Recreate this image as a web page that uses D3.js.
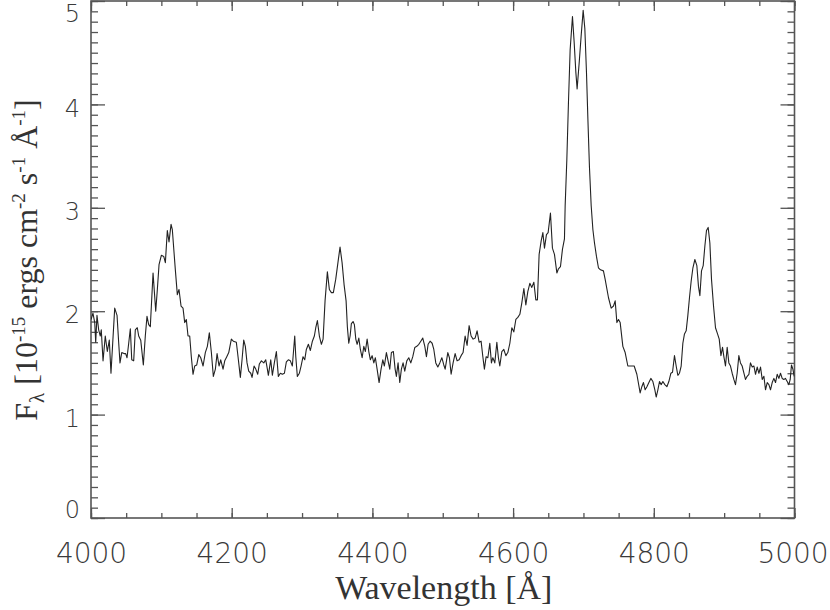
<!DOCTYPE html>
<html>
<head>
<meta charset="utf-8">
<script src="https://cdn.jsdelivr.net/npm/d3@7"></script>
<style>
  html, body { margin: 0; padding: 0; background: #fff; }
  svg { display: block; }
</style>
</head>
<body>
<script>
// ---- data ----
const wavelength = [
4000.0,4002.8,4005.3,4006.7,4008.5,4010.9,4013.2,4014.6,4017.1,4020.3,4023.2,4026.0,4028.4,4033.7,4037.0,4039.4,4041.2,4043.7,4046.9,4049.3,
4051.2,4053.6,4055.9,4057.9,4060.7,4063.0,4065.8,4067.8,4070.7,4074.4,4077.2,4079.6,4082.0,4084.3,4088.2,4092.0,4094.3,4096.7,4100.0,4103.4,
4105.7,4108.5,4110.9,4113.8,4115.6,4118.0,4119.9,4122.7,4125.1,4128.0,4130.8,4133.2,4135.5,4137.9,4140.3,4142.6,4145.0,4147.4,4150.3,4153.2,
4156.0,4159.3,4162.5,4165.4,4168.2,4171.1,4173.9,4176.8,4179.2,4182.0,4184.4,4187.7,4190.1,4193.0,4195.8,4199.5,4202.3,4206.6,4209.0,4212.3,
4214.7,4217.1,4219.4,4221.8,4224.2,4227.1,4228.9,4231.8,4234.2,4237.0,4239.3,4242.2,4245.6,4248.4,4250.7,
4252.1,4255.5,4257.8,4260.6,4263.5,4266.3,4269.2,4272.0,4274.9,4277.7,4280.5,4283.4,4286.2,4289.6,4291.1,4293.3,4296.2,4298.6,4301.4,4303.8,
4306.1,4309.0,4311.8,4314.7,4317.5,4319.5,4321.8,4324.6,4327.5,4329.9,4332.7,4336.0,4338.8,4341.7,4344.5,4347.9,4351.2,4354.0,4356.9,4359.7,
4362.6,4364.4,4366.4,4368.3,4370.1,4372.5,4374.4,4376.4,4378.3,4380.7,4382.9,4385.4,4387.8,4390.0,4392.5,4394.9,4397.1,4399.6,4402.0,4404.2,
4406.7,4409.5,4412.3,4414.8,4417.0,4419.9,4422.3,4424.7,4427.0,4429.8,4432.3,4434.1,4436.5,4438.9,4441.2,4443.6,4446.0,4448.9,4451.7,4454.6,
4457.4,4460.3,4463.1,4466.0,4468.8,4471.6,4474.5,4476.8,4479.2,4482.0,4484.9,4487.3,4490.1,4493.0,4495.8,4498.7,4501.5,
4503.4,4507.2,4509.5,4511.9,4514.7,4517.6,4520.4,4523.3,4526.1,4528.9,4531.8,4534.6,4537.5,4540.3,4543.2,4546.0,4548.8,4551.7,4554.5,4557.0,
4559.2,4561.7,4564.1,4566.9,4569.2,4571.2,4574.0,4576.9,4579.1,4581.1,4584.0,4586.8,4589.7,4592.5,4595.4,4598.2,4601.0,4603.9,4606.7,4609.6,
4612.4,4615.3,4618.1,4620.9,4623.8,4626.6,4629.5,4632.3,4634.6,4637.0,4639.9,4642.3,4644.6,4647.4,4649.8,4653.1,4655.9,4658.8,4662.2,4664.5,
4667.3,4670.2,4673.0,
4674.0,4676.4,4678.7,4681.1,4684.4,4686.8,4689.2,4691.0,4693.9,4696.7,4699.6,4702.0,4704.3,4706.3,4708.5,4711.0,4713.4,4715.7,4718.5,4721.3,
4724.2,4728.4,4730.8,4735.6,4739.4,4742.7,4745.1,4747.5,4749.8,4752.2,4756.0,4759.3,4763.1,4767.8,4772.1,4775.9,
4780.6,4783.0,4785.3,4787.7,4790.2,4793.0,4795.8,4798.7,4801.5,4803.4,4805.8,4808.1,4810.5,4812.9,4815.7,4818.6,4821.4,4824.3,4826.6,4829.4,
4831.8,4834.2,4836.5,4838.9,4841.3,4843.6,4846.0,4848.4,4850.7,4853.1,4855.6,4858.4,4861.2,4863.5,4865.5,4867.8,4870.2,4872.6,4874.9,4877.3,
4879.7,4882.0,4884.9,4887.7,4890.6,4893.0,4895.4,4897.7,4899.6,4901.9,4904.3,4906.7,4909.0,4911.4,4913.8,4916.1,4918.5,4920.9,4923.2,4925.6,
4928.1,4930.3,4932.7,4935.2,4937.4,4939.9,4942.3,4944.6,4947.0,4949.4,4951.7,4954.1,4956.5,4958.8,4961.2,4963.6,4965.9,4968.3,4970.7,4973.0,
4975.4,4977.8,4980.1,4982.5,4984.9,4987.2,4989.6,4992.0,4993.9,4995.7,4997.7,4999.6
];
const flux = [
1.92,1.98,1.89,1.70,1.96,1.82,1.76,1.82,1.52,1.76,1.61,1.72,1.40,2.03,1.96,1.69,1.50,1.60,1.59,1.59,
1.55,1.69,1.83,1.53,1.52,1.82,1.84,1.76,1.72,1.48,1.76,1.95,1.87,1.85,2.37,2.00,2.21,2.45,2.54,2.53,
2.47,2.78,2.67,2.84,2.79,2.57,2.40,2.16,2.21,2.05,2.03,1.89,1.92,1.76,1.76,1.56,1.39,1.47,1.48,1.58,
1.55,1.47,1.60,1.66,1.79,1.60,1.37,1.44,1.59,1.47,1.53,1.44,1.52,1.56,1.60,1.73,1.71,1.70,1.56,1.36,
1.53,1.72,1.66,1.50,1.42,1.40,1.36,1.47,1.44,1.39,1.49,1.52,1.50,1.53,1.44,
1.38,1.53,1.38,1.50,1.61,1.37,1.40,1.39,1.40,1.51,1.53,1.52,1.47,1.76,1.56,1.37,1.40,1.47,1.56,1.53,
1.63,1.68,1.62,1.71,1.76,1.84,1.91,1.76,1.68,1.73,2.10,2.38,2.21,2.18,2.18,2.31,2.48,2.62,2.47,2.26,
2.10,1.85,1.69,1.76,1.88,1.90,1.87,1.73,1.68,1.74,1.63,1.55,1.66,1.61,1.73,1.61,1.53,1.57,1.50,1.55,
1.44,1.31,1.44,1.53,1.47,1.60,1.52,1.44,1.60,1.61,1.44,1.37,1.50,1.31,1.44,1.50,1.42,1.52,1.55,1.50,
1.56,1.65,1.66,1.68,1.71,1.74,1.66,1.56,1.68,1.71,1.69,1.63,1.50,1.46,1.50,1.55,1.48,
1.44,1.60,1.55,1.39,1.50,1.59,1.52,1.53,1.57,1.60,1.76,1.67,1.86,1.76,1.73,1.74,1.81,1.70,1.71,1.56,
1.44,1.56,1.55,1.69,1.50,1.55,1.50,1.70,1.55,1.47,1.61,1.63,1.57,1.60,1.69,1.84,1.80,1.92,1.94,1.97,
2.08,2.22,2.06,2.19,2.27,2.23,2.28,2.11,2.11,2.55,2.68,2.76,2.61,2.74,2.76,2.95,2.61,2.55,2.37,2.41,
2.43,2.60,2.70,
3.02,3.47,4.02,4.53,4.85,4.60,4.31,4.15,4.40,4.66,4.91,4.73,4.31,3.86,3.40,3.02,2.79,2.66,2.53,2.42,
2.40,2.39,2.31,2.13,2.03,2.05,2.10,1.89,1.92,1.89,1.66,1.60,1.47,1.47,1.47,1.39,
1.21,1.27,1.31,1.24,1.27,1.31,1.35,1.32,1.24,1.17,1.24,1.32,1.29,1.32,1.29,1.27,1.32,1.40,1.41,1.57,
1.47,1.38,1.40,1.47,1.69,1.78,1.81,1.96,2.13,2.29,2.42,2.50,2.44,2.24,2.15,2.39,2.44,2.63,2.78,2.81,
2.66,2.31,2.05,1.84,1.78,1.73,1.57,1.65,1.56,1.47,1.65,1.50,1.47,1.40,1.34,1.29,1.40,1.57,1.50,1.47,
1.40,1.34,1.37,1.39,1.50,1.46,1.47,1.39,1.46,1.40,1.46,1.34,1.37,1.24,1.31,1.29,1.24,1.31,1.35,1.31,
1.39,1.35,1.40,1.35,1.34,1.35,1.32,1.29,1.34,1.48,1.44,1.37
];
const xDomain = [4000, 5000];
const yDomain = [0, 5];
const xTickLabels = [4000, 4200, 4400, 4600, 4800, 5000];
const yTickLabels = [0, 1, 2, 3, 4, 5];
const xMinorStep = 50;
const yMinorStep = 0.1;
const xTitle = "Wavelength [Å]";

// ---- layout ----
const W = 830, H = 610;
const mLeft = 91, mRight = 794.5, mTop = 1, mBottom = 518;
const axisColor = "#555";
const labelColor = "#3a3a3a";

const svg = d3.select("body").append("svg").attr("width", W).attr("height", H);

const x = d3.scaleLinear().domain(xDomain).range([mLeft, mRight]);
const y = d3.scaleLinear().domain(yDomain).range([mBottom, mTop]);

const xMinor = d3.range(xDomain[0], xDomain[1] + 1e-9, xMinorStep);
const yMinor = d3.range(0, 51).map(i => +(i * yMinorStep).toFixed(2));

function styleAxis(g) {
  g.select(".domain").remove();
  g.selectAll(".tick line").attr("stroke", axisColor).attr("stroke-width", 1.3);
}

// bottom minor + major
svg.append("g").attr("transform", `translate(0,${mBottom})`)
  .call(d3.axisBottom(x).tickValues(xMinor).tickSize(-5).tickSizeOuter(0).tickFormat(""))
  .call(styleAxis);
const gxb = svg.append("g").attr("transform", `translate(0,${mBottom})`)
  .call(d3.axisBottom(x).tickValues(xTickLabels).tickSize(-10).tickSizeOuter(0).tickPadding(25).tickFormat(d3.format("d")))
  .call(styleAxis);
gxb.selectAll("text")
  .attr("font-family", "'DejaVu Sans', sans-serif")
  .attr("font-weight", 200)
  .attr("font-size", 28)
  .attr("fill", labelColor)
  .attr("transform", d => d === xDomain[1] ? "translate(-2,0)" : null);

// top minor + major
svg.append("g").attr("transform", `translate(0,${mTop})`)
  .call(d3.axisTop(x).tickValues(xMinor).tickSize(-5).tickSizeOuter(0).tickFormat(""))
  .call(styleAxis);
svg.append("g").attr("transform", `translate(0,${mTop})`)
  .call(d3.axisTop(x).tickValues(xTickLabels).tickSize(-10).tickSizeOuter(0).tickFormat(""))
  .call(styleAxis);

// left minor + major
svg.append("g").attr("transform", `translate(${mLeft},0)`)
  .call(d3.axisLeft(y).tickValues(yMinor).tickSize(-7).tickSizeOuter(0).tickFormat(""))
  .call(styleAxis);
const gyl = svg.append("g").attr("transform", `translate(${mLeft},0)`)
  .call(d3.axisLeft(y).tickValues(yTickLabels).tickSize(-14).tickSizeOuter(0).tickPadding(11).tickFormat(d3.format("d")))
  .call(styleAxis);
gyl.selectAll("text")
  .attr("font-family", "'DejaVu Sans', sans-serif")
  .attr("font-weight", 200)
  .attr("font-size", 24)
  .attr("fill", labelColor)
  .attr("transform", d => {
    const yy = y(d);
    const c = Math.max(mTop + 12.5, Math.min(mBottom - 8, yy + 4));
    return `translate(0,${c - yy})`;
  });

// right minor + major
svg.append("g").attr("transform", `translate(${mRight},0)`)
  .call(d3.axisRight(y).tickValues(yMinor).tickSize(-7).tickSizeOuter(0).tickFormat(""))
  .call(styleAxis);
svg.append("g").attr("transform", `translate(${mRight},0)`)
  .call(d3.axisRight(y).tickValues(yTickLabels).tickSize(-14).tickSizeOuter(0).tickFormat(""))
  .call(styleAxis);

// frame
svg.append("rect")
  .attr("x", mLeft).attr("y", mTop)
  .attr("width", mRight - mLeft).attr("height", mBottom - mTop)
  .attr("fill", "none").attr("stroke", axisColor).attr("stroke-width", 1.6);

// clip + spectrum
svg.append("clipPath").attr("id", "clip").append("rect")
  .attr("x", mLeft).attr("y", mTop).attr("width", mRight - mLeft).attr("height", mBottom - mTop);

const pts = wavelength.map((w, i) => [w, flux[i]]);
svg.append("path")
  .datum(pts)
  .attr("clip-path", "url(#clip)")
  .attr("fill", "none")
  .attr("stroke", "#222")
  .attr("stroke-width", 1.1)
  .attr("stroke-linejoin", "round")
  .attr("d", d3.line().x(d => x(d[0])).y(d => y(d[1])));

// axis titles
svg.append("text")
  .attr("x", (mLeft + mRight) / 2 + 1)
  .attr("y", 599)
  .attr("text-anchor", "middle")
  .attr("font-family", "'Liberation Serif', 'Times New Roman', serif")
  .attr("font-size", 34)
  .attr("fill", "#333")
  .text(xTitle);

const yt = svg.append("text")
  .attr("transform", "translate(37,260) rotate(-90)")
  .attr("text-anchor", "middle")
  .attr("font-family", "'Liberation Serif', 'Times New Roman', serif")
  .attr("font-size", 32)
  .attr("fill", "#333");
yt.append("tspan").text("F");
yt.append("tspan").attr("font-size", 21).attr("dy", 7).text("λ");
yt.append("tspan").attr("dy", -7).text(" [10");
yt.append("tspan").attr("font-size", 19).attr("dy", -12).text("-15");
yt.append("tspan").attr("dy", 12).text(" ergs cm");
yt.append("tspan").attr("font-size", 19).attr("dy", -12).text("-2");
yt.append("tspan").attr("dy", 12).text(" s");
yt.append("tspan").attr("font-size", 19).attr("dy", -12).text("-1");
yt.append("tspan").attr("dy", 12).text(" Å");
yt.append("tspan").attr("font-size", 19).attr("dy", -12).text("-1");
yt.append("tspan").attr("dy", 12).text("]");
</script>
</body>
</html>
